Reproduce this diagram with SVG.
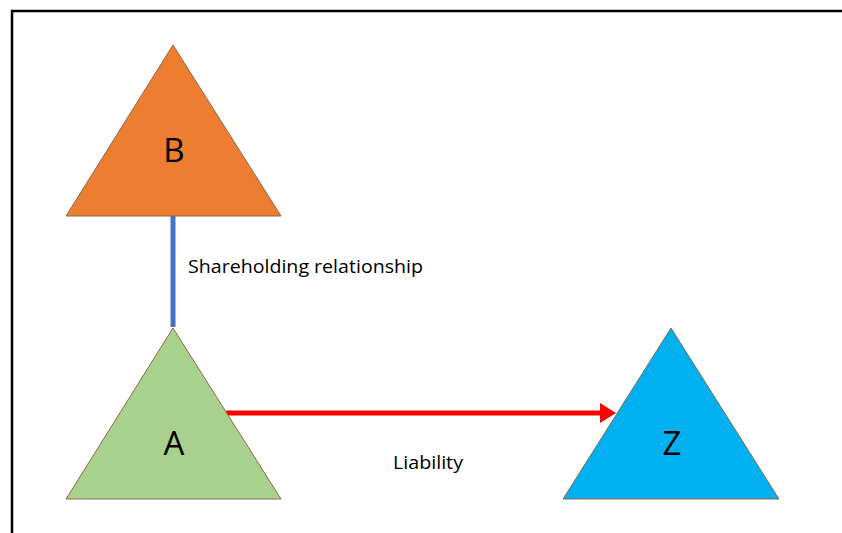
<svg xmlns="http://www.w3.org/2000/svg" width="842" height="533" viewBox="0 0 842 533">
  <style>
    .tri { stroke: #8a6a4a; stroke-width: 1; }
    .big { font-family: "Open Sans", "Liberation Sans", sans-serif; font-size: 33px; fill: #000; text-anchor: middle; }
    .lbl { font-family: "Open Sans", "Liberation Sans", sans-serif; font-size: 18px; fill: #000; }
  </style>
  <defs>
    <marker id="arrowhead" markerWidth="4" markerHeight="4" refX="0" refY="2" orient="auto" markerUnits="strokeWidth">
      <path d="M0,0 L3.2,2 L0,4 Z" fill="#ff0000"/>
    </marker>
  </defs>
  <rect x="0" y="0" width="842" height="533" fill="#fff"/>
  <!-- frame -->
  <path d="M12,540 V11 H850" fill="none" stroke="#000" stroke-width="2.5"/>

  <g id="connectors">
    <line x1="173" y1="216" x2="173" y2="327" stroke="#4472c4" stroke-width="5"/>
    <line x1="226" y1="413" x2="600" y2="413" stroke="#ff0000" stroke-width="5" marker-end="url(#arrowhead)"/>
  </g>

  <g id="node-B">
    <polygon class="tri" points="173,45 281,216 66,216" fill="#ed7d31"/>
    <text class="big" x="174" y="162">B</text>
  </g>
  <g id="node-A">
    <polygon class="tri" points="173,328 281,499 66,499" fill="#a9d18e"/>
    <text class="big" x="174" y="455">A</text>
  </g>
  <g id="node-Z">
    <polygon class="tri" points="671,328 779,499 563,499" fill="#00b0f0"/>
    <text class="big" x="672" y="455">Z</text>
  </g>

  <text class="lbl" x="188" y="273" textLength="235" lengthAdjust="spacingAndGlyphs">Shareholding relationship</text>
  <text class="lbl" x="393" y="469" textLength="70" lengthAdjust="spacingAndGlyphs">Liability</text>
</svg>
